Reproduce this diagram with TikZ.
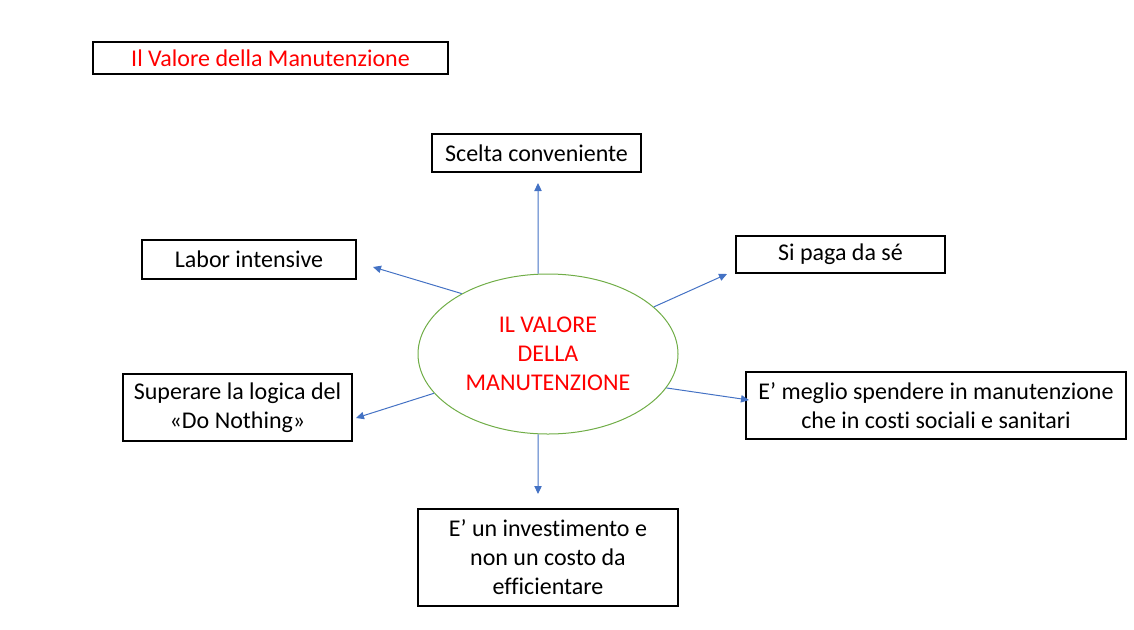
\documentclass[tikz,border=0pt]{standalone}
\usepackage{fontspec}
\setmainfont{Carlito}[Ligatures=NoCommon]
\usetikzlibrary{arrows.meta}
\usetikzlibrary{shapes.geometric}
\definecolor{arrowblue}{HTML}{4472C4}
\definecolor{ringgreen}{HTML}{70AD47}
\begin{document}
\begin{tikzpicture}[x=0.75pt, y=-0.75pt,
		box/.style={draw=black, line width=0.8pt, inner sep=0pt, align=center, font=\fontsize{18}{21.75}\selectfont},
		arr/.style={draw=arrowblue, line width=0.75pt, -{Triangle[length=6pt,width=5.5pt]}}]
				\useasboundingbox (0,0) rectangle (1134,629);
				\node[box, minimum width=266.25pt, minimum height=24pt, text=red] (title) at (270.5,58) {\raisebox{-2pt}{Il Valore della Manutenzione}};
				\node[draw=ringgreen, line width=0.75pt, ellipse, minimum width=195pt, minimum height=120pt, inner sep=0pt, align=center, text=red, font=\fontsize{18}{21.75}\selectfont] (ctr) at (548,354) {IL VALORE\\DELLA\\MANUTENZIONE};
				\node[box, minimum width=156.75pt, minimum height=28.5pt] (scelta) at (536.5,153) {Scelta conveniente};
				\node[box, minimum width=160.5pt, minimum height=29.25pt] (labor) at (249,259.5) {Labor intensive};
				\node[box, minimum width=156.75pt, minimum height=27.75pt] (paga) at (840.5,254.5) {Si paga da sé};
				\node[box, minimum width=171.75pt, minimum height=50.25pt] (logica) at (237.5,407.5) {Superare la logica del\\«Do Nothing»};
				\node[box, minimum width=285pt, minimum height=50.25pt] (spesa) at (936,405.5) {E’ meglio spendere in manutenzione\\che in costi sociali e sanitari};
				\node[box, minimum width=195pt, minimum height=72.75pt] (invest) at (548,557.5) {E’ un investimento e\\non un costo da\\efficientare};
				\coordinate (tscelta) at (538,183);
				\coordinate (tlabor) at (373,267);
				\coordinate (tpaga) at (727,274);
				\coordinate (tlogica) at (356,418);
				\coordinate (tspesa) at (749,400);
				\coordinate (tinvest) at (538,494);
				\draw[arr] (ctr.97) -- (tscelta);
				\draw[arr] (ctr.145) -- (tlabor);
				\draw[arr] (ctr.24) -- (tpaga);
				\draw[arr] (ctr.199) -- (tlogica);
				\draw[arr] (ctr.344) -- (tspesa);
				\draw[arr] (ctr.263) -- (tinvest);
			\end{tikzpicture}
\end{document}
